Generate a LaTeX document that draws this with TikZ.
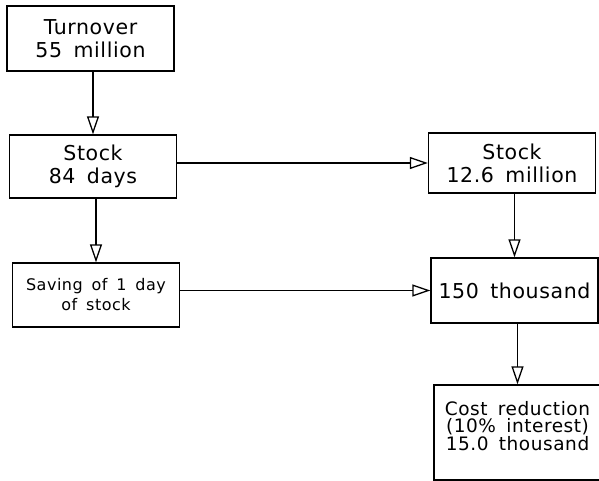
\documentclass[tikz,border=0pt]{standalone}
\usepackage{fontspec}
\setmainfont{DejaVu Sans}[WordSpace=1.6,LetterSpace=3]
\usetikzlibrary{arrows.meta}
\tikzset{
  box/.style={draw, line width=1.4pt, minimum width=167pt, inner sep=0pt, align=center},
  bigtext/.style={font=\fontsize{20.5}{23}\selectfont},
  midtext/.style={font=\fontsize{18.5}{17.5}\selectfont},
  smalltext/.style={font=\fontsize{16}{20}\selectfont},
  arr/.style={line width=1.4pt, -{Triangle[open, length=18pt, width=12pt, line width=1.3pt]}}
}
\begin{document}
\begin{tikzpicture}[x=1pt,y=-1pt]
\useasboundingbox (0,0) rectangle (599,481);
\clip (0,0) rectangle (599,481);
\node[box, bigtext, minimum height=65pt] (t) at (90.5,38.5) {Turnover\\55 million};
\node[box, bigtext, minimum height=63pt] (s) at (93,166.5) {Stock\\84 days};
\node[box, smalltext, minimum height=64pt] (sv) at (96,295) {Saving of 1 day\\of stock};
\node[box, bigtext, minimum height=60pt] (sm) at (512,163) {Stock\\12.6 million};
\node[box, bigtext, minimum height=65pt] (th) at (514.5,290.5) {150 thousand};
\node[box, midtext, minimum height=95pt, text depth=14pt] (cr) at (517.5,432.5) {Cost reduction\\(10\% interest)\\15.0 thousand};
\draw[arr] (s.north |- t.south) -- (s.north);
\draw[arr] (sv.north |- s.south) -- (sv.north);
\draw[arr] (s.east |- sm.west) -- (sm.west);
\draw[arr] (sv.east |- th.west) -- (th.west);
\draw[arr] (th.north |- sm.south) -- (th.north);
\draw[arr] (cr.north |- th.south) -- (cr.north);
\end{tikzpicture}
\end{document}
